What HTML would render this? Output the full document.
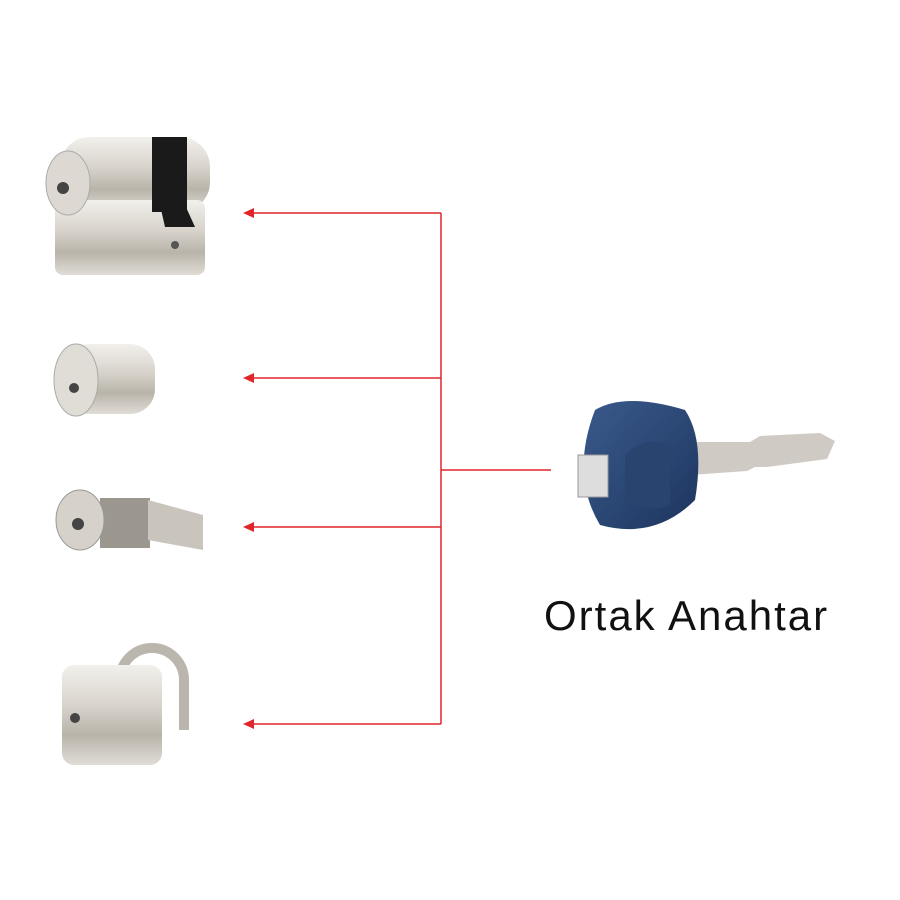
<!DOCTYPE html>
<html><head><meta charset="utf-8"><style>
html,body{margin:0;padding:0;background:#fff;width:900px;height:900px;overflow:hidden}
.t{position:absolute;left:544px;top:592px;font-family:"Liberation Sans",sans-serif;font-size:42px;color:#111;letter-spacing:2px;white-space:nowrap}
</style></head><body>
<svg width="900" height="900" style="position:absolute;left:0;top:0">
<defs>
<linearGradient id="m" x1="0" y1="0" x2="0" y2="1"><stop offset="0" stop-color="#f2f0ec"/><stop offset=".4" stop-color="#d8d4cc"/><stop offset=".7" stop-color="#b9b4aa"/><stop offset="1" stop-color="#e0ddd6"/></linearGradient>
<linearGradient id="b" x1="0" y1="0" x2="1" y2="1"><stop offset="0" stop-color="#3a5a8c"/><stop offset="1" stop-color="#1d355e"/></linearGradient>
</defs>
<g stroke="#e0262b" stroke-width="1.5" fill="none">
<path d="M441 213V724M441 470H551M252 213H441M252 378H441M252 527H441M252 724H441"/>
</g>
<g fill="#e0262b">
<path d="M243 213l11-5v10z"/><path d="M243 378l11-5v10z"/><path d="M243 527l11-5v10z"/><path d="M243 724l11-5v10z"/>
</g>
<rect x="60" y="137" width="150" height="75" rx="30" fill="url(#m)"/>
<rect x="55" y="200" width="150" height="75" rx="8" fill="url(#m)"/>
<ellipse cx="68" cy="183" rx="22" ry="32" fill="#ddd9d2" stroke="#aaa"/>
<circle cx="63" cy="188" r="6" fill="#444"/>
<rect x="152" y="137" width="35" height="75" fill="#1a1a1a"/>
<path d="M160 205h25l10 22h-30z" fill="#1a1a1a"/>
<circle cx="175" cy="245" r="4" fill="#555"/>
<rect x="65" y="344" width="90" height="70" rx="25" fill="url(#m)"/>
<ellipse cx="76" cy="380" rx="22" ry="36" fill="#e0ddd6" stroke="#aaa"/>
<circle cx="74" cy="388" r="5" fill="#444"/>
<rect x="100" y="498" width="50" height="50" fill="#9c978e"/>
<path d="M148 500l55 15v35l-55-10z" fill="#c9c5bd"/>
<ellipse cx="80" cy="520" rx="24" ry="30" fill="#d6d2ca" stroke="#999"/>
<circle cx="78" cy="524" r="6" fill="#444"/>
<path d="M120 710V680a32 32 0 0 1 64 0V730" fill="none" stroke="#bbb6ad" stroke-width="10"/>
<rect x="62" y="665" width="100" height="100" rx="12" fill="url(#m)"/>
<circle cx="75" cy="718" r="5" fill="#444"/>
<path d="M690 442h60l10-6 60-3 15 8-8 18-60 8-12 0-8 4-57 4z" fill="#cfcbc4"/>
<path d="M595 410q30-18 90 0q20 30 10 90q-40 40-95 25q-30-50-5-115z" fill="url(#b)"/>
<rect x="578" y="455" width="30" height="42" fill="#ddd" stroke="#999"/>
<path d="M625 455q20-20 45-10v60q-25 10-45-8z" fill="#2a4470"/>
</svg>
<div class="t">Ortak Anahtar</div>
</body></html>
